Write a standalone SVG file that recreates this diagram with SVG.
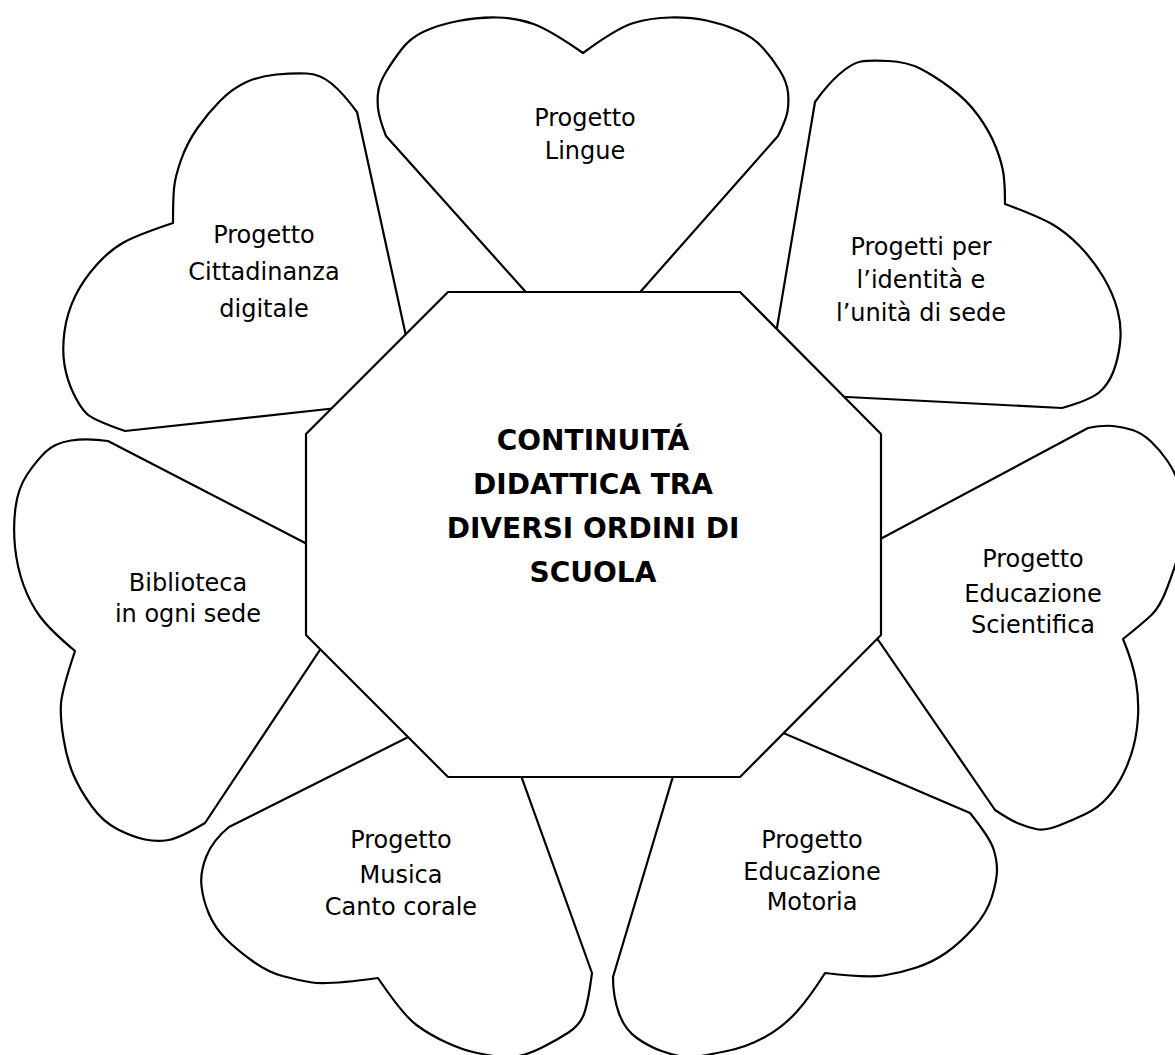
<svg xmlns="http://www.w3.org/2000/svg" width="1175" height="1055" viewBox="0 0 1175 1055">
<style>
.shape{fill:#fff;stroke:#000;stroke-width:2.2;stroke-linejoin:round}
.lbl{font-family:"Comic Sans MS","DejaVu Sans",sans-serif;font-size:24px;fill:#000;text-anchor:middle}
.ctr{font-family:"Comic Sans MS","DejaVu Sans",sans-serif;font-size:28px;font-weight:bold;fill:#000;text-anchor:middle}
</style>
<rect width="1175" height="1055" fill="#fff"/>
<g id="connectors"/>
<g id="heart-lingue">
<path class="shape" d="M583,356 L524,290 L386,136 Q379,118 378,108 Q377,98 378.5,90 Q380,82 386,72 Q392,62 401,50 Q410,38 424,31.5 Q438,25 458,21 Q478,17 497.5,17.5 Q517,18 533.5,24 Q550,30 583,53 Q617,28 633.5,23 Q650,18 670,17.5 Q690,17 706.5,20.5 Q723,24 738,30.5 Q753,37 762.5,47.5 Q772,58 779.5,70 Q787,82 788,92.5 Q789,103 787.5,111.5 Q786,120 778,136 L642,290 Z"/>
<text class="lbl" x="585" y="126">Progetto</text>
<text class="lbl" x="585" y="159">Lingue</text>
</g>
<g id="heart-cittadinanza">
<path class="shape" d="M420,400 L357,112 Q343,93 331.5,83.5 Q320,74 306.5,73.5 Q293,73 276.5,74.5 Q260,76 246.5,82 Q233,88 220.5,100.5 Q208,113 197.5,128 Q187,143 181,160 Q175,177 174,188.5 Q173,200 173,223 Q137,235 123.5,242.5 Q110,250 96.5,265 Q83,280 75,296.5 Q67,313 64.5,331.5 Q62,350 64.5,365 Q67,380 73.5,393.5 Q80,407 86.5,413.5 Q93,420 125,431 L328,409 Z"/>
<text class="lbl" x="264" y="243">Progetto</text>
<text class="lbl" x="264" y="280">Cittadinanza</text>
<text class="lbl" x="264" y="317">digitale</text>
</g>
<g id="heart-identita">
<path class="shape" d="M766,393 L815,102 Q827,85 839.5,74 Q852,63 861,61.5 Q870,60 888.5,61 Q907,62 920,68.5 Q933,75 950,87.5 Q967,100 978.5,116 Q990,132 996,147.5 Q1002,163 1003.5,174 Q1005,185 1005,204 Q1040,217 1053.5,225 Q1067,233 1080,246.5 Q1093,260 1103,276.5 Q1113,293 1117.5,310 Q1122,327 1120,343.5 Q1118,360 1113,372.5 Q1108,385 1099,392.5 Q1090,400 1062,408 L847,397 Z"/>
<text class="lbl" x="921" y="255">Progetti per</text>
<text class="lbl" x="921" y="288">l’identità e</text>
<text class="lbl" x="921" y="321">l’unità di sede</text>
</g>
<g id="heart-biblioteca">
<path class="shape" d="M369,576 L108,441 Q87,438 71,440.5 Q55,443 46,451.5 Q37,460 27.5,474 Q18,488 15.5,507.5 Q13,527 15,547 Q17,567 23.5,585 Q30,603 40,616.5 Q50,630 75,651 Q62,690 61,703.5 Q60,717 63.5,738.5 Q67,760 73.5,775 Q80,790 91.5,806 Q103,822 118,829.5 Q133,837 145,839.5 Q157,842 168.5,840 Q180,838 205,823 Z"/>
<text class="lbl" x="188" y="591">Biblioteca</text>
<text class="lbl" x="188" y="622">in ogni sede</text>
</g>
<g id="heart-scientifica">
<path class="shape" d="M828,567 L1088,428 Q1103,425 1113,426 Q1123,427 1132.5,430 Q1142,433 1151,441.5 Q1160,450 1167.5,461 Q1175,472 1178.5,483.5 Q1182,495 1183,507.5 Q1184,520 1182.5,532.5 Q1181,545 1178,556 Q1175,567 1167.5,587 Q1160,607 1151.5,615 Q1143,623 1123,639 Q1133,663 1136,681.5 Q1139,700 1138,716.5 Q1137,733 1133.5,746.5 Q1130,760 1123.5,773.5 Q1117,787 1107.5,797.5 Q1098,808 1085.5,814 Q1073,820 1059,825.5 Q1045,831 1036,829 Q1027,827 1018.5,823.5 Q1010,820 995,810 Z"/>
<text class="lbl" x="1033" y="567">Progetto</text>
<text class="lbl" x="1033" y="602">Educazione</text>
<text class="lbl" x="1033" y="633">Scientifica</text>
</g>
<g id="heart-musica">
<path class="shape" d="M492,695 L229,827 Q213,840 206.5,856 Q200,872 201.5,886 Q203,900 209,914 Q215,928 226,939 Q237,950 252.5,961 Q268,972 282.5,976 Q297,980 312,982.5 Q327,985 378,978 Q403,1015 416.5,1025 Q430,1035 446.5,1042.5 Q463,1050 475,1052.5 Q487,1055 496,1056.5 Q505,1058 516,1056.5 Q527,1055 542,1047.5 Q557,1040 568.5,1032.5 Q580,1025 584,1014 Q588,1003 592,973 Z"/>
<text class="lbl" x="401" y="848">Progetto</text>
<text class="lbl" x="401" y="883">Musica</text>
<text class="lbl" x="401" y="915">Canto corale</text>
</g>
<g id="heart-motoria">
<path class="shape" d="M697,696 L613,977 Q613,997 619,1013.5 Q625,1030 637.5,1038.5 Q650,1047 661.5,1051 Q673,1055 681.5,1056.5 Q690,1058 698.5,1056.5 Q707,1055 727,1051 Q747,1047 765,1037 Q783,1027 796.5,1012 Q810,997 825,973 Q867,978 883.5,975.5 Q900,973 916.5,967.5 Q933,962 946.5,952.5 Q960,943 973.5,928 Q987,913 992,896.5 Q997,880 997,870 Q997,860 993.5,849 Q990,838 970,813 Z"/>
<text class="lbl" x="812" y="848">Progetto</text>
<text class="lbl" x="812" y="880">Educazione</text>
<text class="lbl" x="812" y="910">Motoria</text>
</g>
<g id="center">
<polygon class="shape" points="448,292 740,292 881,434 881,635 740,777 448,777 306,635 306,434"/>
<text class="ctr" x="593" y="450">CONTINUITÁ</text>
<text class="ctr" x="593" y="494">DIDATTICA TRA</text>
<text class="ctr" x="593" y="538">DIVERSI ORDINI DI</text>
<text class="ctr" x="593" y="582">SCUOLA</text>
</g>
</svg>
